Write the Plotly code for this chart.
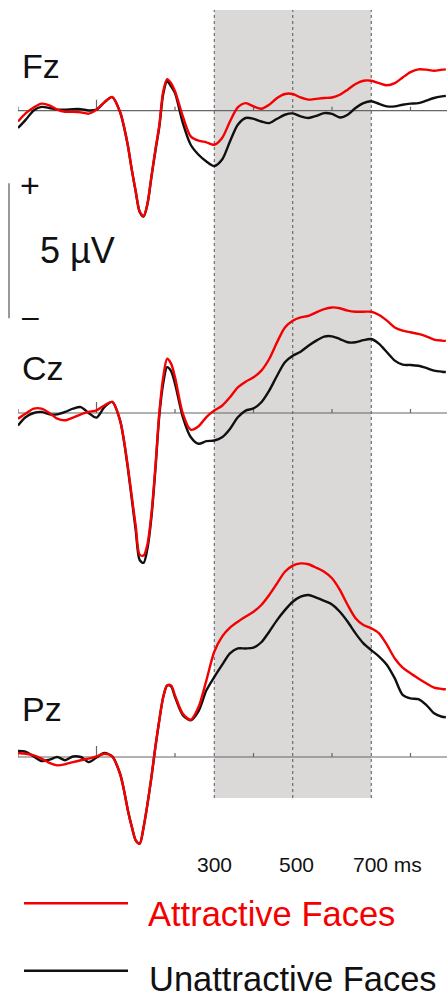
import plotly.graph_objects as go

# ---------------- data (µV) ----------------
TIME_MS = [-200, -180, -160, -140, -120, -100, -80, -60, -40, -20, 0, 20, 40, 60,
           70, 80, 90, 100, 110, 120, 130, 140, 150, 160, 170, 180, 190, 200,
           220, 240, 260, 280, 300, 320, 340, 360, 380, 400, 420, 440, 460, 480,
           500, 520, 540, 560, 580, 600, 620, 640, 660, 680, 700, 720, 740, 760,
           780, 800, 820, 840, 860, 880, 890]

FZ_ATTRACTIVE = [-0.40, -0.09, 0.12, 0.26, 0.20, 0.04, -0.04, -0.04, -0.06, -0.11, 0.04, 0.31, 0.51, -0.05,
                 -0.58, -1.30, -2.19, -3.00, -3.73, -3.90, -3.42, -2.43, -1.44, -0.54, 0.72, 1.17, 1.02, 0.72,
                 -0.21, -0.95, -1.11, -1.17, -1.26,
                 -1.01, -0.40, 0.12, 0.28, 0.16, 0.07, 0.22, 0.47, 0.62, 0.62,
                 0.49, 0.41, 0.44, 0.47, 0.49, 0.59, 0.78, 0.99, 1.11, 1.11,
                 1.02, 0.94, 1.02, 1.23, 1.43, 1.53, 1.52, 1.48, 1.52, 1.53]
FZ_UNATTRACTIVE = [-0.64, -0.33, 0.01, 0.14, 0.10, 0.04, 0.04, 0.06, 0.06, 0.01, 0.04, 0.31, 0.50, -0.05,
                   -0.60, -1.30, -2.20, -3.00, -3.75, -3.92, -3.45, -2.45, -1.50, -0.60, 0.62, 1.10, 0.90, 0.65,
                   -0.46, -1.26, -1.63, -1.88, -2.05,
                   -1.81, -1.14, -0.52, -0.27, -0.30, -0.40, -0.46, -0.30, -0.15, -0.10,
                   -0.21, -0.27, -0.19, -0.09, -0.12, -0.25, -0.15, 0.10, 0.28, 0.35,
                   0.25, 0.16, 0.16, 0.22, 0.26, 0.28, 0.37, 0.47, 0.53, 0.55]

CZ_ATTRACTIVE = [-0.21, -0.02, 0.16, 0.16, 0.00, -0.21, -0.27, -0.17, -0.05, 0.04, 0.10, 0.28, 0.41, -0.27,
                 -1.01, -2.00, -3.11, -4.20, -5.25, -5.28, -4.84, -3.73, -2.00, 0.00, 1.33, 2.01, 1.83, 1.33,
                 -0.02, -0.62, -0.49, -0.15, 0.09,
                 0.27, 0.58, 0.95, 1.16, 1.32, 1.57, 2.00, 2.62, 3.17, 3.42,
                 3.54, 3.60, 3.73, 3.85, 3.91, 3.88, 3.79, 3.75, 3.75, 3.75,
                 3.63, 3.42, 3.17, 3.05, 2.99, 2.93, 2.84, 2.72, 2.68, 2.67]
CZ_UNATTRACTIVE = [-0.46, -0.15, 0.00, 0.04, -0.05, -0.05, 0.04, 0.16, 0.22, 0.00, -0.17, 0.22, 0.41, -0.27,
                   -1.05, -2.06, -3.20, -4.35, -5.45, -5.55, -5.00, -3.85, -2.10, -0.10, 1.10, 1.70, 1.55, 1.09,
                   -0.15, -0.89, -1.14, -1.04, -1.02,
                   -0.90, -0.59, -0.16, 0.09, 0.17, 0.40, 0.83, 1.38, 1.88, 2.12,
                   2.27, 2.49, 2.68, 2.83, 2.84, 2.74, 2.62, 2.62, 2.70, 2.74,
                   2.56, 2.25, 1.94, 1.79, 1.78, 1.75, 1.67, 1.57, 1.53, 1.52]

PZ_ATTRACTIVE = [0.15, 0.12, 0.06, -0.06, -0.22, -0.31, -0.27, -0.19, -0.12, -0.06, 0.02, 0.12, 0.02, -0.62,
                 -1.23, -1.98, -2.59, -3.09, -3.21, -2.60, -1.73, -0.74, 0.37, 1.36, 2.22, 2.65, 2.65, 2.28,
                 1.60, 1.38, 1.85, 2.84, 3.90,
                 4.46, 4.79, 5.01, 5.20, 5.38, 5.63, 6.00, 6.43, 6.86, 7.09,
                 7.17, 7.14, 7.01, 6.86, 6.62, 6.19, 5.63, 5.14, 4.89, 4.77,
                 4.58, 4.15, 3.65, 3.31, 3.10, 2.91, 2.73, 2.57, 2.52, 2.51]
PZ_UNATTRACTIVE = [0.22, 0.19, 0.02, -0.15, -0.10, 0.00, -0.12, 0.02, 0.00, -0.19, -0.02, 0.15, 0.02, -0.62,
                   -1.23, -1.98, -2.59, -3.09, -3.21, -2.60, -1.73, -0.74, 0.37, 1.36, 2.22, 2.65, 2.62, 2.22,
                   1.55, 1.36, 1.70, 2.47, 2.96,
                   3.41, 3.84, 4.02, 4.02, 4.05, 4.25, 4.64, 5.07, 5.44, 5.75,
                   5.94, 6.00, 5.90, 5.78, 5.65, 5.38, 5.01, 4.58, 4.21, 3.96,
                   3.72, 3.41, 2.91, 2.30, 2.17, 2.14, 1.93, 1.62, 1.49, 1.47]

CHANNELS = ["Fz", "Cz", "Pz"]
ATTRACTIVE = [FZ_ATTRACTIVE, CZ_ATTRACTIVE, PZ_ATTRACTIVE]
UNATTRACTIVE = [FZ_UNATTRACTIVE, CZ_UNATTRACTIVE, PZ_UNATTRACTIVE]
WINDOW_MS = [300, 500, 700]
TICKS_MS = [-200, 0, 200, 400, 600, 800]
SCALE_UV = 5
LEGEND_LABELS = ["Attractive Faces", "Unattractive Faces"]

# ---------------- layout geometry ----------------
W, H = 447, 999
ML = 18
PX_PER_MS = 0.3925
PX_PER_UV = 27.0
BASELINE_PX = [110.7, 413.0, 757.0]   # zero line of each channel, px from top
RED = "#f40000"
BLACK = "#101010"
FONT = "Liberation Sans, Arial, sans-serif"

X_RANGE = [-200, -200 + (W - ML) / PX_PER_MS]


def px2x(px):
    return (px - ML) / (W - ML)


def py2y(py):
    return 1 - py / H


fig = go.Figure()
axes = ["y", "y2", "y3"]
for i, ch in enumerate(CHANNELS):
    fig.add_trace(go.Scatter(x=TIME_MS, y=UNATTRACTIVE[i], yaxis=axes[i], mode="lines",
                             line=dict(color=BLACK, width=2.4, shape="spline", smoothing=0.8),
                             showlegend=False, hoverinfo="skip"))
    fig.add_trace(go.Scatter(x=TIME_MS, y=ATTRACTIVE[i], yaxis=axes[i], mode="lines",
                             line=dict(color=RED, width=2.4, shape="spline", smoothing=0.8),
                             showlegend=False, hoverinfo="skip"))

shapes = []
# analysis window
shapes.append(dict(type="rect", xref="x", yref="paper", x0=WINDOW_MS[0], x1=WINDOW_MS[-1],
                   y0=py2y(798), y1=py2y(10), fillcolor="#dbd8d8", line=dict(width=0), layer="below"))
for t in WINDOW_MS:
    shapes.append(dict(type="line", xref="x", yref="paper", x0=t, x1=t, y0=py2y(798), y1=py2y(10),
                       line=dict(color="#555555", width=1, dash="dot"), layer="below"))
# baselines and ticks
for i in range(3):
    shapes.append(dict(type="line", xref="x", yref=axes[i], x0=X_RANGE[0], x1=X_RANGE[1], y0=0, y1=0,
                       line=dict(color="#666666", width=1.2), layer="below"))
    for t in TICKS_MS:
        h = 11 if t == 0 else 4
        shapes.append(dict(type="line", xref="x", yref=axes[i], ysizemode="pixel", yanchor=0,
                           x0=t, x1=t, y0=0, y1=h, line=dict(color="#666666", width=1.2), layer="below"))
# scale bar (5 µV) tied to the Fz axis
SCALE_TOP = (BASELINE_PX[0] - 183.3) / PX_PER_UV
shapes.append(dict(type="line", xref="paper", yref="y", x0=px2x(9), x1=px2x(9),
                   y0=SCALE_TOP, y1=SCALE_TOP - SCALE_UV, line=dict(color="#777777", width=1.5)))
# legend keys
shapes.append(dict(type="line", xref="paper", yref="paper", x0=px2x(24), x1=px2x(128),
                   y0=py2y(903.3), y1=py2y(903.3), line=dict(color=RED, width=2.5)))
shapes.append(dict(type="line", xref="paper", yref="paper", x0=px2x(24), x1=px2x(128),
                   y0=py2y(970.7), y1=py2y(970.7), line=dict(color=BLACK, width=2.5)))

ann = []
label_py = [65.5, 368.3, 709.3]
for ch, py in zip(CHANNELS, label_py):
    ann.append(dict(text=ch, xref="paper", yref="paper", x=px2x(20), y=py2y(py), xanchor="left",
                    yanchor="middle", showarrow=False, font=dict(family=FONT, size=34, color="#111111")))
ann.append(dict(text="+", xref="paper", yref="paper", x=px2x(30), y=py2y(185), xanchor="center",
                yanchor="middle", showarrow=False, font=dict(family=FONT, size=34, color="#111111")))
ann.append(dict(text="–", xref="paper", yref="paper", x=px2x(30), y=py2y(316.5), xanchor="center",
                yanchor="middle", showarrow=False, font=dict(family=FONT, size=30, color="#111111")))
ann.append(dict(text=f"{SCALE_UV} µV", xref="paper", yref="paper", x=px2x(38), y=py2y(250),
                xanchor="left", yanchor="middle", showarrow=False,
                font=dict(family=FONT, size=36, color="#111111")))
# time labels
ann.append(dict(text=str(WINDOW_MS[0]), xref="x", yref="paper", x=WINDOW_MS[0], y=py2y(864.5),
                xanchor="center", yanchor="middle", showarrow=False,
                font=dict(family=FONT, size=21, color="#111111")))
ann.append(dict(text=str(WINDOW_MS[1]), xref="x", yref="paper", x=WINDOW_MS[1], y=py2y(864.5), xshift=4,
                xanchor="center", yanchor="middle", showarrow=False,
                font=dict(family=FONT, size=21, color="#111111")))
ann.append(dict(text=f"{WINDOW_MS[2]} ms", xref="x", yref="paper", x=WINDOW_MS[2], y=py2y(864.5), xshift=-20,
                xanchor="left", yanchor="middle", showarrow=False,
                font=dict(family=FONT, size=21, color="#111111")))
# legend texts
ann.append(dict(text=LEGEND_LABELS[0], xref="paper", yref="paper", x=px2x(146), y=py2y(913.5),
                xanchor="left", yanchor="middle", showarrow=False,
                font=dict(family=FONT, size=34.5, color=RED)))
ann.append(dict(text=LEGEND_LABELS[1], xref="paper", yref="paper", x=px2x(148), y=0,
                xanchor="left", yanchor="bottom", showarrow=False, borderpad=0,
                font=dict(family=FONT, size=34.5, color="#111111")))


def yrange(base_px):
    top = base_px / PX_PER_UV
    return [top - H / PX_PER_UV, top]


fig.update_layout(
    width=W, height=H,
    margin=dict(l=ML, r=0, t=0, b=0),
    paper_bgcolor="white", plot_bgcolor="white",
    showlegend=False,
    xaxis=dict(range=X_RANGE, visible=False, fixedrange=True),
    yaxis=dict(range=yrange(BASELINE_PX[0]), visible=False),
    yaxis2=dict(range=yrange(BASELINE_PX[1]), visible=False, overlaying="y"),
    yaxis3=dict(range=yrange(BASELINE_PX[2]), visible=False, overlaying="y"),
    shapes=shapes,
    annotations=ann,
)

fig.write_html("out.html", config={"displayModeBar": False},
               post_script="document.body.style.margin='0';document.body.style.overflow='hidden';")
